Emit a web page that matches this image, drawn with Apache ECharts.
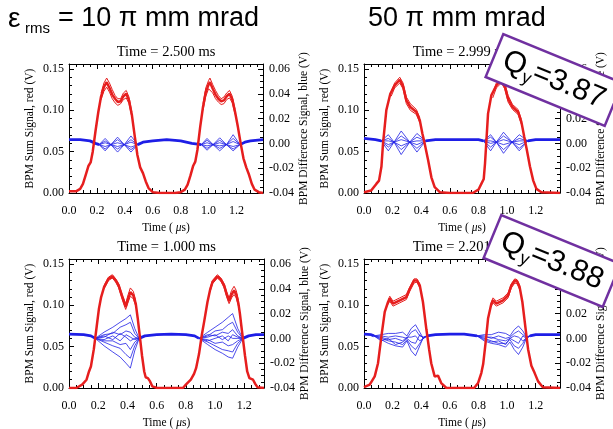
<!DOCTYPE html>
<html>
<head>
<meta charset="utf-8">
<script src="https://cdn.jsdelivr.net/npm/echarts@6/dist/echarts.min.js"></script>
<style>
  html, body { margin: 0; padding: 0; background: #fff; }
  #chart { width: 613px; height: 429px; }
</style>
</head>
<body>
<div id="chart"></div>
<script>
// BPM sum (red, left axis V) and difference (blue, right axis V) vs time in us

// ---- 2.500 ms, 10 pi mm mrad ----
const tlRed = [[0,0.002],[0.05,0.002],[0.08,0.005],[0.10,0.011],[0.12,0.022],[0.14,0.033],[0.155,0.037],[0.17,0.05],[0.19,0.075],[0.21,0.098],[0.23,0.117],[0.25,0.128],[0.27,0.134],[0.29,0.127],[0.31,0.119],[0.33,0.114],[0.35,0.110],[0.37,0.111],[0.39,0.117],[0.41,0.120],[0.43,0.112],[0.45,0.095],[0.47,0.07],[0.49,0.046],[0.51,0.031],[0.53,0.024],[0.55,0.014],[0.57,0.006],[0.60,0.001],[0.65,0],[0.76,0],[0.80,0.001],[0.83,0.004],[0.85,0.010],[0.87,0.021],[0.89,0.033],[0.905,0.038],[0.92,0.052],[0.94,0.08],[0.96,0.104],[0.98,0.122],[1.00,0.131],[1.01,0.134],[1.03,0.126],[1.05,0.119],[1.07,0.114],[1.09,0.111],[1.11,0.112],[1.13,0.117],[1.15,0.120],[1.17,0.113],[1.19,0.098],[1.21,0.08],[1.23,0.06],[1.25,0.042],[1.27,0.031],[1.29,0.022],[1.31,0.011],[1.33,0.004],[1.36,0.001],[1.39,0]];
const tlRedHi = [[0.23,0.121],[0.25,0.133],[0.27,0.139],[0.29,0.133],[0.31,0.125],[0.33,0.118],[0.35,0.114],[0.37,0.114],[0.39,0.121],[0.41,0.124],[0.43,0.116],[0.45,0.098],[0.96,0.108],[0.98,0.127],[1.00,0.136],[1.01,0.139],[1.03,0.131],[1.05,0.124],[1.07,0.118],[1.09,0.114],[1.11,0.116],[1.13,0.121],[1.15,0.124],[1.17,0.117],[1.19,0.101]];
const tlRedLo = [[0.23,0.113],[0.25,0.123],[0.27,0.128],[0.29,0.122],[0.31,0.114],[0.33,0.109],[0.35,0.106],[0.37,0.108],[0.39,0.113],[0.41,0.115],[0.43,0.108],[0.45,0.092],[0.96,0.100],[0.98,0.117],[1.00,0.126],[1.01,0.128],[1.03,0.121],[1.05,0.114],[1.07,0.110],[1.09,0.107],[1.11,0.108],[1.13,0.113],[1.15,0.115],[1.17,0.109],[1.19,0.095]];
const tlBase = [[0,0.003],[0.08,0.003],[0.15,0.002],[0.19,0.0],[0.216,-0.001],[0.492,-0.001],[0.53,0.001],[0.6,0.002],[0.7,0.003],[0.8,0.002],[0.88,0.0],[0.948,-0.001],[1.225,-0.001],[1.26,0.001],[1.3,0.002],[1.39,0.003]];
const tlFanT = [0.216,0.259,0.30,0.348,0.396,0.444,0.492, 0.948,0.989,1.032,1.08,1.128,1.176,1.225];
const tlFan = [
  [-0.001,0.004,-0.001,-0.007,-0.001,0.006,-0.001, -0.001,0.004,-0.001,-0.006,-0.001,0.007,-0.001],
  [-0.001,0.002,-0.001,-0.0045,-0.001,0.003,-0.001, -0.001,0.0025,-0.001,-0.004,-0.001,0.004,-0.001],
  [-0.001,0.0005,-0.001,-0.0025,-0.001,0.001,-0.001, -0.001,0.0005,-0.001,-0.002,-0.001,0.0015,-0.001],
  [-0.001,-0.0025,-0.001,0.0005,-0.001,-0.003,-0.001, -0.001,-0.002,-0.001,0.0005,-0.001,-0.0025,-0.001],
  [-0.001,-0.0045,-0.001,0.003,-0.001,-0.005,-0.001, -0.001,-0.004,-0.001,0.0025,-0.001,-0.0045,-0.001],
  [-0.001,-0.006,-0.001,0.005,-0.001,-0.007,-0.001, -0.001,-0.0055,-0.001,0.0045,-0.001,-0.006,-0.001]
];

// ---- 2.999 ms, 50 pi mm mrad ----
const trRed = [[0,0.001],[0.05,0.003],[0.086,0.011],[0.105,0.015],[0.122,0.032],[0.133,0.06],[0.156,0.10],[0.184,0.12],[0.214,0.13],[0.25,0.137],[0.273,0.129],[0.296,0.112],[0.324,0.104],[0.366,0.098],[0.39,0.088],[0.408,0.072],[0.424,0.06],[0.448,0.04],[0.471,0.019],[0.494,0.007],[0.53,0.001],[0.6,0],[0.76,0],[0.8,0.004],[0.82,0.011],[0.837,0.017],[0.846,0.036],[0.867,0.096],[0.89,0.118],[0.925,0.13],[0.96,0.137],[0.984,0.129],[1.007,0.114],[1.038,0.104],[1.077,0.098],[1.1,0.086],[1.12,0.068],[1.136,0.054],[1.16,0.032],[1.183,0.015],[1.205,0.005],[1.24,0.001],[1.37,0]];
const trRedHi = [[0.19,0.123],[0.214,0.133],[0.25,0.140],[0.273,0.133],[0.296,0.116],[0.324,0.108],[0.366,0.101],[0.39,0.091],[0.9,0.121],[0.925,0.133],[0.96,0.139],[0.984,0.133],[1.007,0.118],[1.038,0.107],[1.077,0.101],[1.1,0.089]];
const trRedLo = [[0.19,0.117],[0.214,0.127],[0.25,0.133],[0.273,0.126],[0.296,0.108],[0.324,0.100],[0.366,0.095],[0.39,0.085],[0.9,0.115],[0.925,0.127],[0.96,0.133],[0.984,0.126],[1.007,0.110],[1.038,0.101],[1.077,0.095],[1.1,0.083]];
const trBase = [[0,0.004],[0.08,0.003],[0.12,0.002],[0.43,0.002],[0.5,0.003],[0.65,0.003],[0.8,0.003],[0.835,0.002],[1.145,0.002],[1.2,0.003],[1.37,0.003]];
const trFanT = [0.12,0.17,0.21,0.26,0.32,0.37,0.43, 0.835,0.885,0.925,0.975,1.035,1.085,1.145];
const trFan = [
  [0.002,0.007,0.001,-0.009,0.001,0.008,0.002, 0.002,0.007,0.001,-0.008,0.001,0.007,0.002],
  [0.002,0.004,0.001,-0.005,0.001,0.005,0.002, 0.002,0.005,0.001,-0.005,0.001,0.004,0.002],
  [0.002,0.002,0.001,-0.002,0.001,0.002,0.002, 0.002,0.002,0.001,-0.001,0.001,0.002,0.002],
  [0.002,-0.001,0.001,0.003,0.001,-0.001,0.002, 0.002,0.000,0.001,0.003,0.001,-0.001,0.002],
  [0.002,-0.003,0.001,0.006,0.001,-0.004,0.002, 0.002,-0.003,0.001,0.006,0.001,-0.004,0.002],
  [0.002,-0.006,0.001,0.010,0.001,-0.007,0.002, 0.002,-0.006,0.001,0.009,0.001,-0.006,0.002]
];

// ---- 1.000 ms, 10 pi mm mrad ----
const blRed = [[0,0.0],[0.05,0.0],[0.09,0.004],[0.12,0.01],[0.137,0.02],[0.15,0.026],[0.17,0.047],[0.19,0.075],[0.205,0.096],[0.22,0.11],[0.24,0.122],[0.27,0.132],[0.297,0.135],[0.32,0.130],[0.34,0.124],[0.365,0.11],[0.388,0.098],[0.405,0.108],[0.42,0.116],[0.44,0.112],[0.457,0.102],[0.47,0.085],[0.48,0.07],[0.50,0.039],[0.515,0.02],[0.525,0.013],[0.54,0.012],[0.555,0.008],[0.57,0.002],[0.605,0],[0.78,0],[0.8,0.004],[0.834,0.01],[0.856,0.017],[0.87,0.024],[0.89,0.041],[0.91,0.065],[0.925,0.08],[0.948,0.104],[0.965,0.118],[0.982,0.128],[1.016,0.135],[1.04,0.131],[1.062,0.124],[1.08,0.113],[1.096,0.105],[1.113,0.113],[1.13,0.118],[1.145,0.113],[1.16,0.102],[1.17,0.09],[1.18,0.075],[1.205,0.039],[1.22,0.02],[1.235,0.012],[1.26,0.01],[1.275,0.005],[1.29,0.001],[1.335,0]];
const blRedHi = [[0.24,0.124],[0.27,0.134],[0.297,0.137],[0.32,0.132],[0.34,0.126],[0.365,0.113],[0.388,0.102],[0.405,0.113],[0.42,0.121],[0.44,0.117],[0.457,0.106],[0.965,0.12],[0.982,0.130],[1.016,0.137],[1.04,0.133],[1.062,0.126],[1.08,0.116],[1.096,0.109],[1.113,0.118],[1.13,0.123],[1.145,0.118],[1.16,0.106]];
const blRedLo = [[0.24,0.12],[0.27,0.13],[0.297,0.133],[0.32,0.128],[0.34,0.121],[0.365,0.107],[0.388,0.095],[0.405,0.104],[0.42,0.111],[0.44,0.108],[0.457,0.099],[0.965,0.116],[0.982,0.126],[1.016,0.133],[1.04,0.129],[1.062,0.121],[1.08,0.110],[1.096,0.102],[1.113,0.109],[1.13,0.113],[1.145,0.109],[1.16,0.099]];
const blBase = [[0,0.0035],[0.1,0.003],[0.15,0.002],[0.18,0.0],[0.48,0.0],[0.52,0.002],[0.6,0.003],[0.7,0.0035],[0.8,0.003],[0.86,0.002],[0.89,0.0],[1.19,0.0],[1.23,0.002],[1.28,0.003],[1.335,0.003]];
const blFanT = [0.18,0.24,0.30,0.35,0.39,0.42,0.45,0.48, 0.89,0.95,1.00,1.05,1.09,1.12,1.155,1.19];
const blFan = [
  [0.000,0.005,0.009,0.013,0.016,0.019,0.008,0.000, 0.000,0.005,0.009,0.013,0.017,0.020,0.008,0.000],
  [0.000,-0.006,-0.011,-0.015,-0.020,-0.024,-0.010,0.000, 0.000,-0.005,-0.009,-0.012,-0.015,-0.016,-0.007,0.000],
  [0.000,0.003,0.004,0.009,0.011,0.013,0.004,0.000, 0.000,0.002,0.006,0.007,0.011,0.013,0.005,0.000],
  [0.000,-0.003,-0.006,-0.008,-0.013,-0.016,-0.006,0.000, 0.000,-0.003,-0.006,-0.009,-0.010,-0.011,-0.004,0.000],
  [0.000,0.001,0.005,0.003,0.006,0.005,0.001,0.000, 0.000,0.003,0.002,0.005,0.004,0.007,0.002,0.000],
  [0.000,-0.002,-0.002,-0.005,-0.004,-0.009,-0.003,0.000, 0.000,-0.001,-0.004,-0.003,-0.006,-0.005,-0.002,0.000],
  [0.000,0.002,-0.001,0.004,0.001,-0.002,0.000,0.000, 0.000,0.001,0.003,-0.001,0.002,0.000,0.000,0.000],
  [0.000,-0.001,0.002,-0.002,0.003,0.001,-0.001,0.000, 0.000,-0.002,0.000,0.002,-0.002,0.003,0.001,0.000]
];

// ---- 2.201 ms, 50 pi mm mrad ----
const brRed = [[0,0.001],[0.04,0.004],[0.075,0.014],[0.098,0.03],[0.122,0.063],[0.145,0.092],[0.168,0.104],[0.18,0.108],[0.203,0.102],[0.25,0.106],[0.296,0.11],[0.32,0.12],[0.35,0.13],[0.37,0.13],[0.39,0.124],[0.412,0.104],[0.436,0.071],[0.455,0.047],[0.47,0.03],[0.494,0.014],[0.517,0.015],[0.54,0.006],[0.576,0.0],[0.77,0],[0.797,0.006],[0.82,0.018],[0.833,0.029],[0.85,0.055],[0.867,0.084],[0.89,0.102],[0.902,0.106],[0.925,0.102],[0.972,0.106],[1.007,0.112],[1.03,0.124],[1.054,0.13],[1.07,0.129],[1.088,0.122],[1.107,0.104],[1.13,0.071],[1.147,0.047],[1.17,0.027],[1.193,0.018],[1.217,0.008],[1.25,0.001],[1.37,0]];
const brRedHi = [[0.168,0.106],[0.18,0.111],[0.203,0.105],[0.25,0.109],[0.296,0.113],[0.32,0.122],[0.35,0.132],[0.37,0.132],[0.39,0.126],[0.89,0.104],[0.902,0.109],[0.925,0.105],[0.972,0.109],[1.007,0.115],[1.03,0.126],[1.054,0.132],[1.07,0.131],[1.088,0.124]];
const brRedLo = [[0.168,0.101],[0.18,0.105],[0.203,0.099],[0.25,0.103],[0.296,0.107],[0.32,0.117],[0.35,0.127],[0.37,0.128],[0.39,0.121],[0.89,0.099],[0.902,0.103],[0.925,0.099],[0.972,0.103],[1.007,0.109],[1.03,0.121],[1.054,0.127],[1.07,0.126],[1.088,0.119]];
const brBase = [[0,0.0035],[0.05,0.003],[0.07,0.002],[0.44,0.002],[0.5,0.003],[0.6,0.0035],[0.7,0.0035],[0.79,0.002],[1.16,0.002],[1.2,0.003],[1.37,0.003]];
const brFanT = [0.07,0.12,0.17,0.22,0.27,0.30,0.33,0.36,0.39,0.415,0.44, 0.79,0.84,0.89,0.94,0.99,1.02,1.05,1.08,1.11,1.135,1.16];
const brFan = [
  [0.002,0.003,0.004,0.004,0.005,0.002,0.008,0.011,0.005,0.000,0.002, 0.002,0.003,0.003,0.005,0.004,0.002,0.007,0.010,0.006,0.001,0.002],
  [0.002,-0.001,-0.004,-0.006,-0.007,-0.002,-0.010,-0.014,-0.006,0.001,0.002, 0.002,-0.002,-0.004,-0.005,-0.007,-0.003,-0.009,-0.013,-0.007,0.000,0.002],
  [0.002,0.002,0.001,0.002,0.001,0.000,0.005,0.007,0.002,0.001,0.002, 0.002,0.002,0.000,0.002,0.000,0.001,0.004,0.006,0.003,0.001,0.002],
  [0.002,0.000,-0.002,-0.003,-0.005,-0.001,-0.006,-0.009,-0.004,0.000,0.002, 0.002,0.000,-0.002,-0.004,-0.004,-0.001,-0.006,-0.008,-0.004,0.001,0.002],
  [0.002,0.001,-0.001,0.000,-0.002,0.001,0.001,0.002,-0.002,0.000,0.002, 0.002,0.001,0.001,-0.001,-0.002,0.000,0.002,0.001,-0.002,0.000,0.002],
  [0.002,-0.002,0.000,-0.005,-0.003,0.000,-0.003,-0.004,0.003,0.000,0.002, 0.002,-0.001,-0.003,-0.002,-0.005,0.000,-0.002,-0.004,0.002,0.000,0.002]
];

const RED = '#e61e1e';
const BLUE = '#1e1ee6';
const SERIF = '"Liberation Serif", "Times New Roman", serif';
const SANS = '"Liberation Sans", Arial, sans-serif';

const panels = [
  {title: 'Time = 2.500 ms', left: 69, top: 64, width: 194, height: 129, xmax: 1.39, red: tlRed, hi: tlRedHi, lo: tlRedLo, base: tlBase, fanT: tlFanT, fan: tlFan},
  {title: 'Time = 2.999 ms', left: 364, top: 64, width: 196, height: 129, xmax: 1.37, red: trRed, hi: trRedHi, lo: trRedLo, base: trBase, fanT: trFanT, fan: trFan},
  {title: 'Time = 1.000 ms', left: 69, top: 259, width: 195, height: 129, xmax: 1.335, red: blRed, hi: blRedHi, lo: blRedLo, base: blBase, fanT: blFanT, fan: blFan},
  {title: 'Time = 2.201 ms', left: 364, top: 259, width: 196, height: 129, xmax: 1.37, red: brRed, hi: brRedHi, lo: brRedLo, base: brBase, fanT: brFanT, fan: brFan}
];

// break a trace where there is a gap between the two bunches
function line(pts) {
  const out = [];
  for (let i = 0; i < pts.length; i++) {
    if (i > 0 && pts[i][0] - pts[i - 1][0] > 0.25) out.push([(pts[i][0] + pts[i - 1][0]) / 2, null]);
    out.push(pts[i]);
  }
  return out;
}
function zip(ts, vs) {
  return ts.map(function (t, i) { return [t, vs[i]]; });
}
function fmt(step, digits) {
  return function (v) {
    const k = v / step;
    if (Math.abs(k - Math.round(k)) > 1e-6) return '';
    return (Math.round(v * 1000) / 1000).toFixed(digits);
  };
}

const axisLine = {show: true, onZero: false, lineStyle: {color: '#000', width: 1}};
const axisTick = {show: true, inside: true, length: 5, lineStyle: {color: '#000', width: 1}};
function minor(n) {
  return {show: true, splitNumber: n, length: 3, lineStyle: {color: '#000', width: 1}};
}
const labelFont = {color: '#000', fontFamily: SERIF, fontSize: 12};
const nameFont = {color: '#000', fontFamily: SERIF, fontSize: 11.5};

const option = {
  animation: false,
  backgroundColor: '#fff',
  grid: [], xAxis: [], yAxis: [], series: [], graphic: []
};

panels.forEach(function (p, i) {
  option.grid.push({left: p.left, top: p.top, width: p.width, height: p.height, containLabel: false, outerBoundsMode: 'none'});

  option.xAxis.push({
    gridIndex: i, type: 'value', position: 'bottom', min: 0, max: p.xmax, interval: 0.2,
    axisLine: axisLine, axisTick: axisTick, minorTick: minor(4), splitLine: {show: false},
    axisLabel: Object.assign({margin: 12, formatter: fmt(0.2, 1)}, labelFont),
    name: 'Time ( {i|μ}s)', nameLocation: 'middle', nameGap: 29,
    nameTextStyle: Object.assign({rich: {i: {fontStyle: 'italic', fontFamily: SERIF, fontSize: 11.5, color: '#000'}}}, nameFont)
  });
  option.xAxis.push({
    gridIndex: i, type: 'value', position: 'top', min: 0, max: p.xmax, interval: 0.2,
    axisLine: axisLine, axisTick: axisTick, minorTick: minor(4), splitLine: {show: false},
    axisLabel: {show: false}
  });

  option.yAxis.push({
    gridIndex: i, type: 'value', position: 'left', min: 0, max: 0.156, interval: 0.05,
    axisLine: axisLine, axisTick: axisTick, minorTick: minor(5), splitLine: {show: false},
    axisLabel: Object.assign({margin: 5, formatter: fmt(0.05, 2)}, labelFont),
    name: 'BPM Sum Signal, red (V)', nameLocation: 'middle', nameGap: 33, nameTextStyle: nameFont
  });
  option.yAxis.push({
    gridIndex: i, type: 'value', position: 'right', min: -0.04, max: 0.064, interval: 0.02,
    axisLine: axisLine, axisTick: axisTick, minorTick: minor(4), splitLine: {show: false},
    axisLabel: Object.assign({margin: 6, formatter: fmt(0.02, 2)}, labelFont),
    name: 'BPM Difference Signal, blue (V)', nameLocation: 'middle', nameGap: 34, nameTextStyle: nameFont
  });

  const xi = 2 * i, yl = 2 * i, yr = 2 * i + 1;
  function add(data, y, color, width) {
    option.series.push({
      type: 'line', xAxisIndex: xi, yAxisIndex: y, data: line(data),
      symbol: 'none', silent: true, connectNulls: false,
      lineStyle: {color: color, width: width}
    });
  }
  p.fan.forEach(function (tr) { add(zip(p.fanT, tr), yr, BLUE, 0.8); });
  add(p.base, yr, BLUE, 2.8);
  add(p.hi, yl, RED, 1);
  add(p.lo, yl, RED, 1);
  add(p.red, yl, RED, 2.5);

  option.graphic.push({
    type: 'text', x: p.left + p.width / 2, y: p.top - 12,
    style: {text: p.title, font: '14.5px ' + SERIF, fill: '#000', align: 'center', verticalAlign: 'middle'}
  });
});

// headers
option.graphic.push(
  {type: 'text', x: 8, y: 19, style: {text: 'ε', font: '28px ' + SANS, fill: '#000', align: 'left', verticalAlign: 'middle'}},
  {type: 'text', x: 25, y: 29, style: {text: 'rms', font: '15px ' + SANS, fill: '#000', align: 'left', verticalAlign: 'middle'}},
  {type: 'text', x: 58, y: 19, style: {text: '= 10 π mm mrad', font: '27px ' + SANS, fill: '#000', align: 'left', verticalAlign: 'middle'}},
  {type: 'text', x: 368, y: 19, style: {text: '50 π mm mrad', font: '27px ' + SANS, fill: '#000', align: 'left', verticalAlign: 'middle'}}
);

// tune boxes
function tuneBox(cx, cy, value) {
  return {
    type: 'text', x: cx, y: cy, rotation: -0.39, z: 100,
    style: {
      text: '{q|Q}{s|y}{q|=' + value + '}',
      align: 'center', verticalAlign: 'middle',
      backgroundColor: '#fff', borderColor: '#7030a0', borderWidth: 2.5,
      padding: [4, 9, 4, 9],
      rich: {
        q: {fontSize: 30, fontFamily: SANS, fill: '#000', lineHeight: 36},
        s: {fontSize: 18, fontFamily: SANS, fill: '#000', lineHeight: 18, verticalAlign: 'bottom'}
      }
    }
  };
}
option.graphic.push(tuneBox(554, 80, '3.87'), tuneBox(552, 261, '3.88'));

const chart = echarts.init(document.getElementById('chart'), null, {renderer: 'canvas'});
chart.setOption(option);
</script>
</body>
</html>
